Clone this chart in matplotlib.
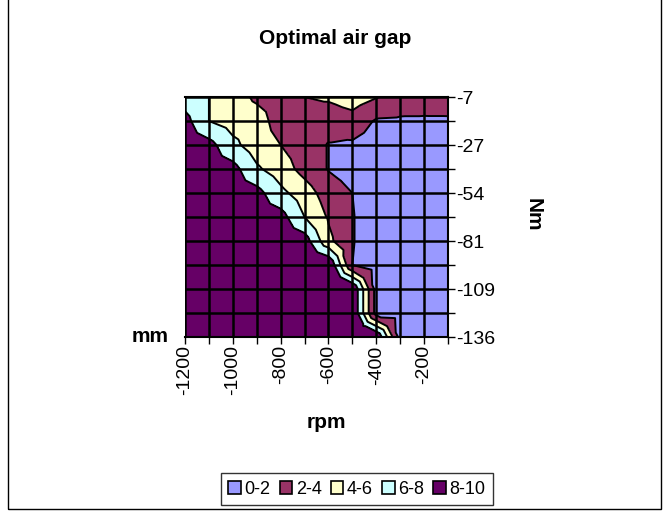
import numpy as np
import matplotlib.pyplot as plt
import matplotlib.tri as mtri
from matplotlib.patches import Patch, Rectangle

plt.rcParams['font.family'] = ['Liberation Sans', 'DejaVu Sans']

# speed (columns) and torque (rows, top to bottom)
rpm = [-1200, -1100, -1000, -900, -800, -700, -600, -500, -400, -300, -200, -100]
nm = [-7, -14, -27, -41, -54, -68, -81, -95, -109, -122, -136]

# optimal air gap [mm], one row per torque value
gap = [
    [7.0, 6.0, 5.0, 3.6, 3.2, 4.0, 4.3, 5.0, 4.1, 3.3, 3.1, 3.2],
    [8.7, 6.0, 5.2, 5.0, 3.0, 3.0, 2.8, 3.2, 1.8, 1.7, 1.7, 1.7],
    [8.7, 8.7, 6.5, 5.0, 4.0, 3.0, 1.9, 1.7, 1.2, 1.2, 1.2, 1.2],
    [8.7, 8.7, 8.7, 6.3, 5.0, 3.3, 1.9, 1.2, 1.0, 1.0, 1.0, 1.0],
    [8.7, 8.7, 8.7, 8.7, 6.5, 5.0, 3.0, 2.0, 1.0, 1.0, 1.0, 1.0],
    [8.8, 8.8, 8.8, 8.8, 8.8, 6.0, 3.8, 2.1, 1.0, 1.0, 1.0, 1.0],
    [9.0, 9.0, 9.0, 9.0, 9.0, 9.0, 4.5, 2.1, 1.0, 1.0, 1.0, 1.0],
    [9.5, 9.5, 9.5, 9.5, 9.5, 9.5, 10.0, 2.0, 1.0, 1.0, 1.0, 1.0],
    [10.0, 10.0, 10.0, 10.0, 10.0, 10.0, 10.0, 10.0, 1.2, 1.0, 1.0, 1.0],
    [10.0, 10.0, 10.0, 10.0, 10.0, 10.0, 10.0, 10.0, 1.2, 1.0, 1.0, 1.0],
    [10.0, 10.0, 10.0, 10.0, 10.0, 10.0, 10.0, 10.0, 10.0, 1.2, 1.0, 1.0],
]

bands = ['0-2', '2-4', '4-6', '6-8', '8-10']
levels = [0, 2, 4, 6, 8, 10]
colors = ['#9999FF', '#993366', '#FFFFCC', '#CCFFFF', '#660066']

Z = np.array(gap)
ny, nx = Z.shape

# excel-like surface: every cell split in 4 triangles around its centre
xs, ys, zs = [], [], []
for j in range(ny):
    for i in range(nx):
        xs.append(i); ys.append(j); zs.append(Z[j, i])
tris = []
for j in range(ny - 1):
    for i in range(nx - 1):
        c = len(xs)
        xs.append(i + 0.5); ys.append(j + 0.5)
        zs.append(Z[j:j + 2, i:i + 2].mean())
        tl, tr = j * nx + i, j * nx + i + 1
        bl, br = (j + 1) * nx + i, (j + 1) * nx + i + 1
        tris += [[tl, tr, c], [tr, br, c], [br, bl, c], [bl, tl, c]]
tri = mtri.Triangulation(xs, ys, tris)

fig = plt.figure(figsize=(6.7, 5.16), dpi=100)
ax = fig.add_axes([185 / 670, 1 - 337 / 516, 263 / 670, 240 / 516])

# top band made slightly open so that values of exactly 10 are filled
ax.tricontourf(tri, zs, levels=levels[:-1] + [10.01], colors=colors)
ax.tricontour(tri, zs, levels=levels[1:-1], colors='k', linewidths=1.4)
for i in range(nx):
    ax.axvline(i, color='k', lw=1.8)
for j in range(ny):
    ax.axhline(j, color='k', lw=1.8)

ax.set_xlim(0, nx - 1)
ax.set_ylim(ny - 1, 0)
ax.set_xticks(range(nx))
ax.set_xticklabels([str(v) if k % 2 == 0 else '' for k, v in enumerate(rpm)],
                   rotation=90, fontsize=14)
ax.yaxis.tick_right()
ax.set_yticks(range(ny))
ax.set_yticklabels([str(v) if k % 2 == 0 else '' for k, v in enumerate(nm)], fontsize=14)
ax.tick_params(length=5, width=1, pad=1)
for s in ax.spines.values():
    s.set_linewidth(1.5)
ax.spines['left'].set_visible(False)

fig.text(335 / 670, 1 - 38 / 516, 'Optimal air gap', ha='center', va='center',
         fontsize=15, fontweight='bold')
fig.text(326 / 670, 1 - 423 / 516, 'rpm', ha='center', va='center',
         fontsize=15, fontweight='bold')
fig.text(533 / 670, 1 - 215 / 516, 'Nm', ha='center', va='center', rotation=-90,
         fontsize=15, fontweight='bold')
fig.text(150 / 670, 1 - 336 / 516, 'mm', ha='center', va='center',
         fontsize=15, fontweight='bold')

handles = [Patch(facecolor=c, edgecolor='k', lw=1.2, label=b) for c, b in zip(colors, bands)]
leg = fig.legend(handles=handles, loc='center', bbox_to_anchor=(357 / 670, 1 - 489 / 516),
                 ncol=5, fontsize=13, frameon=True, fancybox=False, handlelength=0.7,
                 handleheight=0.7, handletextpad=0.2, columnspacing=0.5,
                 borderpad=0.4, borderaxespad=0)
leg.get_frame().set_edgecolor('k')
leg.get_frame().set_linewidth(1.0)

fig.patches.append(Rectangle((8 / 670, 1 - 509 / 516), 653 / 670, 509 / 516 + 0.01,
                             transform=fig.transFigure, fill=False, ec='k', lw=1))

fig.savefig('out.png', dpi=100)
